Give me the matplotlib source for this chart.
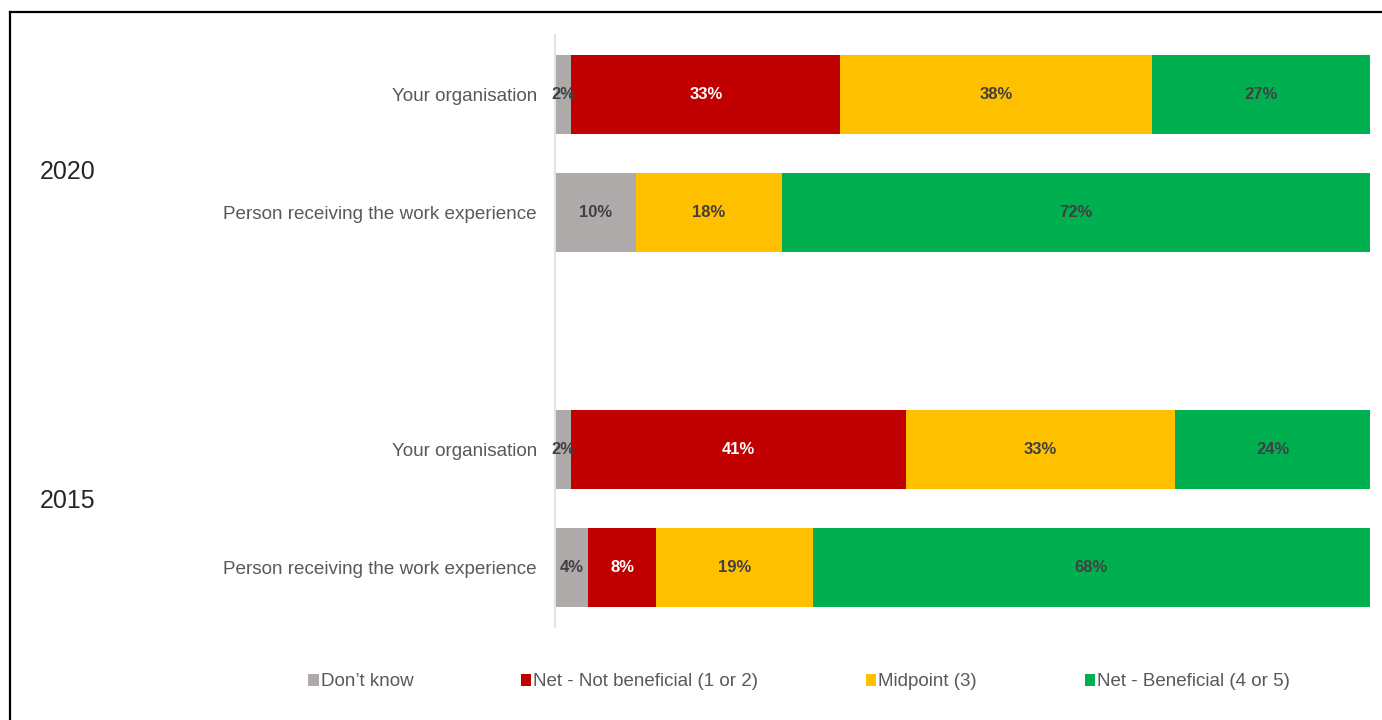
import matplotlib.pyplot as plt
from matplotlib.patches import Patch
from matplotlib.lines import Line2D
import matplotlib.transforms as mtransforms

plt.rcParams['font.family'] = ['Liberation Sans', 'DejaVu Sans']

# survey answers, two rows per year
years = ["2020", "2015"]
categories = ["Your organisation", "Person receiving the work experience",
              "Your organisation", "Person receiving the work experience"]
dont_know = [2.0, 9.9, 2.0, 4.1]
not_beneficial = [33.0, 0.0, 41.1, 8.3]
midpoint = [38.2, 18.0, 33.0, 19.2]
beneficial = [26.8, 72.1, 23.9, 68.4]

series_names = ["Don\u2019t know", "Net - Not beneficial (1 or 2)",
                "Midpoint (3)", "Net - Beneficial (4 or 5)"]
series = [dont_know, not_beneficial, midpoint, beneficial]
colors = ["#AEAAAA", "#C00000", "#FFC000", "#00B050"]
label_colors = ["#404040", "white", "#404040", "#404040"]

# rows 0,1 for the first year, an empty slot, then rows 3,4
ypos = [0, 1, 3, 4]

W, H = 1382, 720
fig = plt.figure(figsize=(W / 100, H / 100), dpi=100)
ax = fig.add_axes([555 / W, 1 - 627 / H, (1370 - 555) / W, (627 - 35) / H])

left = [0.0] * len(ypos)
for vals, name, col, tcol in zip(series, series_names, colors, label_colors):
    bars = ax.barh(ypos, vals, left=left, height=0.667, color=col,
                   edgecolor="none", label=name)
    labels = [f"{v:.0f}%" if v > 0 else "" for v in vals]
    ax.bar_label(bars, labels=labels, label_type="center", color=tcol,
                 fontsize=12, fontweight="bold")
    left = [l + v for l, v in zip(left, vals)]

ax.set_xlim(0, 100)
ax.set_ylim(4.5, -0.5)
ax.set_xticks([])
ax.set_yticks(ypos)
ax.set_yticklabels(categories, fontsize=13.6, color="#595959")
ax.tick_params(axis="y", length=0, pad=13)
for s in ["top", "right", "bottom"]:
    ax.spines[s].set_visible(False)
ax.spines["left"].set_color("#E3E3E3")
ax.spines["left"].set_linewidth(1.5)

# year labels on the far left
trans = mtransforms.blended_transform_factory(fig.transFigure, ax.transData)
for yr, yy in zip(years, [0.66, 3.44]):
    ax.text(40 / W, yy, yr, transform=trans, fontsize=18, color="#262626",
            ha="left", va="center")

handles = [Patch(facecolor=c, edgecolor="none") for c in colors]
fig.legend(handles, series_names, loc="center", ncol=4,
           bbox_to_anchor=(799 / W, 1 - 682 / H), frameon=False,
           fontsize=13.5, labelcolor="#595959", handlelength=0.55,
           handleheight=0.55, handletextpad=0.1, columnspacing=5.75)

# frame lines on the left and top
fig.add_artist(Line2D([10 / W, 10 / W], [0, 1 - 12 / H], color="black",
                      lw=1.6, transform=fig.transFigure))
fig.add_artist(Line2D([10 / W, 1], [1 - 12 / H, 1 - 12 / H], color="black",
                      lw=1.6, transform=fig.transFigure))

fig.savefig("out.png", dpi=100)
